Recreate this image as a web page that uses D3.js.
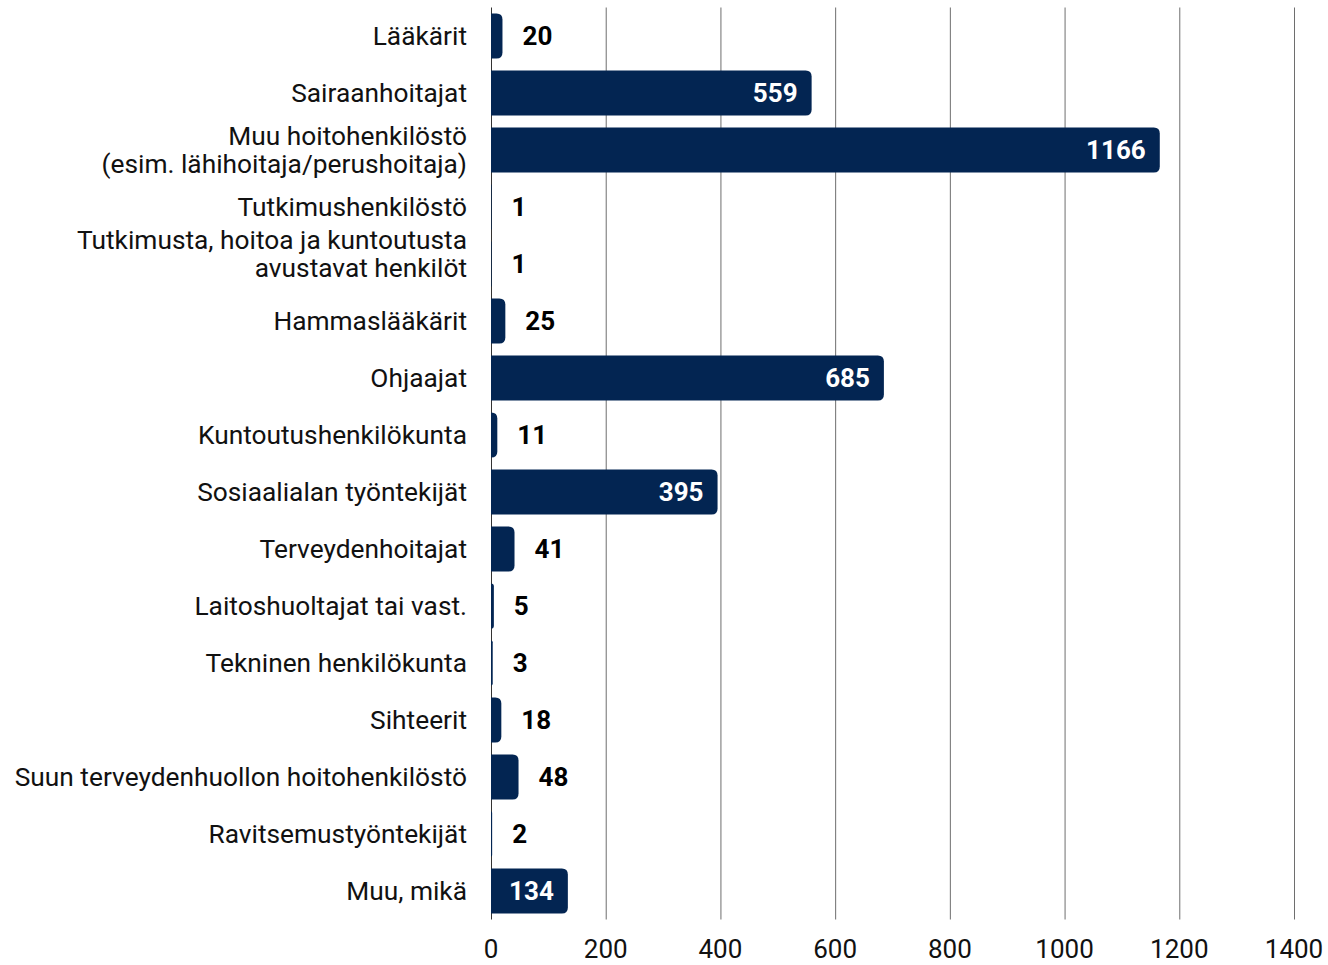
<!DOCTYPE html>
<html><head><meta charset="utf-8">
<script src="https://cdn.jsdelivr.net/npm/d3@7"></script>
<style>body{margin:0;background:#fff}svg{display:block;font-family:Roboto,sans-serif}</style>
</head><body><svg id="c" width="1328" height="965"></svg>
<script>
const categories = ["Lääkärit","Sairaanhoitajat","Muu hoitohenkilöstö\n(esim. lähihoitaja/perushoitaja)","Tutkimushenkilöstö","Tutkimusta, hoitoa ja kuntoutusta\navustavat henkilöt","Hammaslääkärit","Ohjaajat","Kuntoutushenkilökunta","Sosiaalialan työntekijät","Terveydenhoitajat","Laitoshuoltajat tai vast.","Tekninen henkilökunta","Sihteerit","Suun terveydenhuollon hoitohenkilöstö","Ravitsemustyöntekijät","Muu, mikä"];
const values = [20,559,1166,1,1,25,685,11,395,41,5,3,18,48,2,134];
const xTicks = [0,200,400,600,800,1000,1200,1400];

const svg = d3.select("#c");
const m = {l:491, r:1294, t:7.5, b:919.5};
const x = d3.scaleLinear().domain([0,1400]).range([m.l, m.r]);
const y = d3.scaleBand().domain(categories).range([m.t, m.b]).paddingInner(0.21).paddingOuter(0.105);
const navy = "#032552";

// gridlines
svg.append("g").selectAll("line").data(xTicks).join("line")
  .attr("x1", d=>x(d)+0.5).attr("x2", d=>x(d)+0.5)
  .attr("y1", m.t).attr("y2", m.b)
  .attr("stroke", d=> d===0 ? "#333" : "#6e6e6e").attr("stroke-width", 1);

// bars with right rounded corners
function barPath(d, i){
  const x0 = x(0), x1 = x(d), yt = y(categories[i]), h = y.bandwidth();
  const w = x1 - x0;
  const r = Math.min(6, w, h/2);
  return `M${x0},${yt}H${x1-r}Q${x1},${yt} ${x1},${yt+r}V${yt+h-r}Q${x1},${yt+h} ${x1-r},${yt+h}H${x0}Z`;
}
svg.append("g").selectAll("path").data(values).join("path")
  .attr("d", (d,i)=>barPath(d,i)).attr("fill", navy);

// value labels
svg.append("g").selectAll("text").data(values).join("text")
  .attr("x", d => d > 100 ? x(d) - 14 : x(d) + 20)
  .attr("y", (d,i)=> y(categories[i]) + y.bandwidth()/2)
  .attr("dy","0.35em")
  .attr("text-anchor", d => d > 100 ? "end" : "start")
  .attr("fill", d => d > 100 ? "#fff" : "#000")
  .attr("font-weight", "bold").attr("font-size", 26)
  .text(d=>d);

// category labels
const labelShift = {4: -10};
const lab = svg.append("g").selectAll("text").data(categories).join("text")
  .attr("text-anchor","end").attr("font-size",26.3).attr("fill","#111")
  .attr("transform", (d,i)=>`translate(467,${y(d)+y.bandwidth()/2 + (labelShift[i]||0)})`);
lab.each(function(d){
  const lines = d.split("\n");
  const t = d3.select(this);
  lines.forEach((ln,k)=>{
    t.append("tspan").attr("x",0)
      .attr("y", (k - (lines.length-1)/2)*27.5)
      .attr("dy","0.35em").text(ln);
  });
});

// x axis labels
svg.append("g").selectAll("text").data(xTicks).join("text")
  .attr("x", d=>x(d)).attr("y", 949).attr("dy","0.35em")
  .attr("text-anchor","middle").attr("font-size",26).attr("fill","#111")
  .text(d=>d);
</script></body></html>
